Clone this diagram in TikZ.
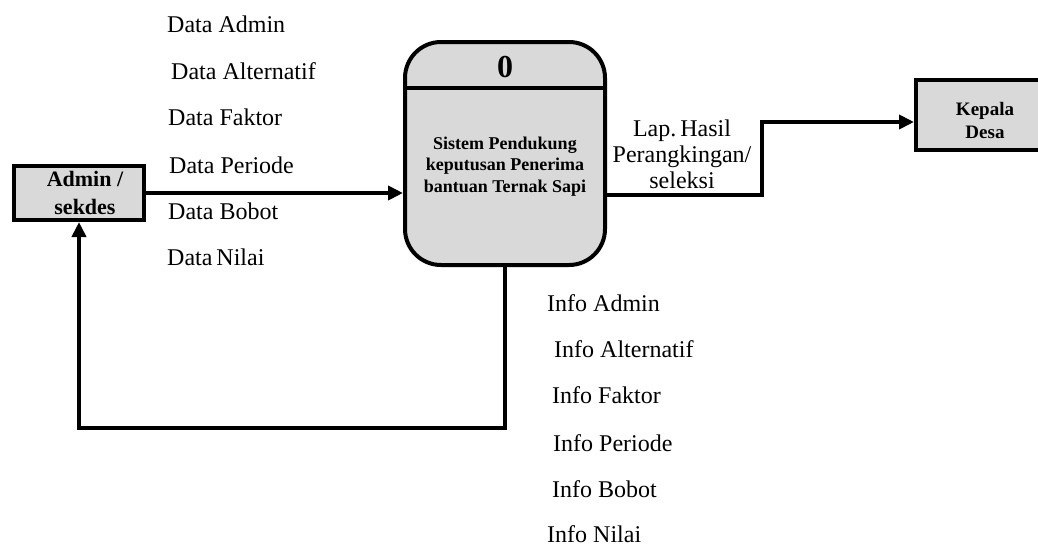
\documentclass[tikz,border=0pt]{standalone}
\usepackage{fontspec}
\setmainfont{Liberation Serif}
\usetikzlibrary{arrows.meta}
\definecolor{boxgray}{HTML}{D9D9D9}
\tikzset{
  entity/.style={draw=black, fill=boxgray, line width=4pt, rectangle, inner sep=0pt},
  entitytext/.style={align=center, anchor=base, inner sep=0pt,
    font=\bfseries\fontsize{22}{28}\selectfont},
  process/.style={draw=black, fill=boxgray, line width=4pt, rectangle,
    rounded corners=36pt, inner sep=0pt},
  flow/.style={line width=4pt, -{Triangle[length=15pt,width=14pt]}},
  lbl/.style={anchor=base west, inner sep=0pt, font=\fontsize{24}{26}\selectfont},
}
\begin{document}
\begin{tikzpicture}[x=1pt, y=-1pt]
\clip (0,0) rectangle (1038,546);

% external entities
\node[entity, minimum width=130pt, minimum height=54pt] (admin) at (79,193) {};
\node[entitytext] (admintext) at (85,214) {Admin /\\sekdes};
\node[entity, minimum width=138pt, minimum height=70pt] (kepala) at (985,115) {};
\node[entitytext, font=\bfseries\fontsize{19}{23}\selectfont] (kepalatext) at (985,138) {Kepala\\Desa};

% process 0
\node[process, minimum width=200pt, minimum height=223pt] (proc) at (505,153.5) {};
\draw[line width=4pt] (proc.west |- 0,88) -- (proc.east |- 0,88);
\node[font=\bfseries\fontsize{32}{32}\selectfont, anchor=base, inner sep=0pt] (pnum) at (505,77) {0};
\node[font=\bfseries\fontsize{18}{21.5}\selectfont, align=center, anchor=base, inner sep=0pt]
  (ptext) at (505,192) {Sistem Pendukung\\keputusan Penerima\\bantuan Ternak Sapi};

% data flows
\draw[flow] (admin.east) -- (admin.east -| proc.west);

\coordinate (outA) at (762,195);
\coordinate (outB) at (762,122);
\draw[flow] (proc.east |- outA) -- (outA) -- (outB) -- (outB -| kepala.west);

\coordinate (backA) at (505,428);
\draw[flow] (proc.south) -- (backA) -| (admin.south);

% flow labels: input
\node[lbl] (d1) at (167,32)  {Data Admin};
\node[lbl] (d2) at (171,79)  {Data Alternatif};
\node[lbl] (d3) at (168,125) {Data Faktor};
\node[lbl] (d4) at (169,173) {Data Periode};
\node[lbl] (d5) at (168,219) {Data Bobot};
\node[lbl] (d6) at (167,265) {Data\,Nilai};

% flow labels: feedback
\node[lbl] (i1) at (547,311) {Info Admin};
\node[lbl] (i2) at (554,357) {Info Alternatif};
\node[lbl] (i3) at (552,403) {Info Faktor};
\node[lbl] (i4) at (553,451) {Info Periode};
\node[lbl] (i5) at (552,497) {Info Bobot};
\node[lbl] (i6) at (547,542) {Info Nilai};

% flow label: report
\node[font=\fontsize{24}{26}\selectfont, align=center, anchor=base, inner sep=0pt]
  (lap) at (682,188) {Lap.\,Hasil\\Perangkingan/\\seleksi};
\end{tikzpicture}
\end{document}
